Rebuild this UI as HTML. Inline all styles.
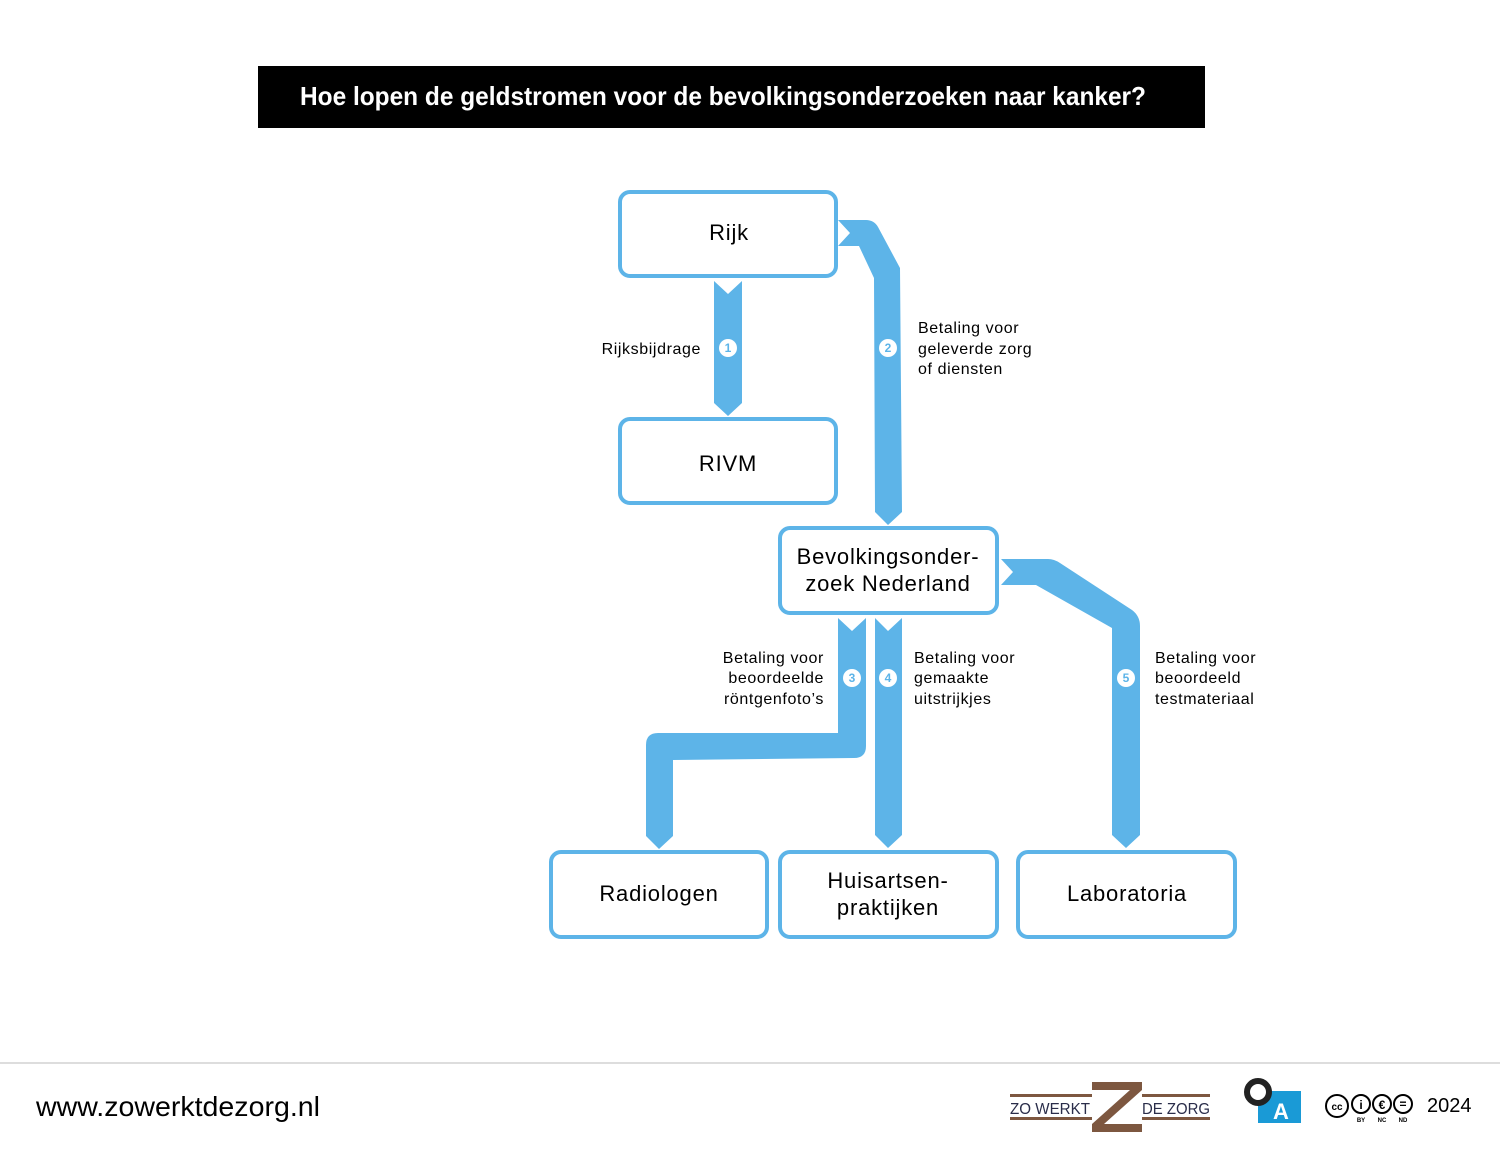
<!DOCTYPE html>
<html><head><meta charset="utf-8"><style>
html,body{margin:0;padding:0;background:#fff;width:1500px;height:1150px;overflow:hidden}
svg{display:block}
text{font-family:"Liberation Sans",sans-serif}
</style></head><body>
<svg width="1500" height="1150" viewBox="0 0 1500 1150" xmlns="http://www.w3.org/2000/svg">
<rect x="258" y="66" width="947" height="62" fill="#000"/>
<text x="300" y="105" fill="#fff" font-size="26" font-weight="bold" textLength="846" lengthAdjust="spacingAndGlyphs">Hoe lopen de geldstromen voor de bevolkingsonderzoeken naar kanker?</text>

<g fill="#5db4e8">
<polygon points="714,281 728,294 742,281 742,403 728,416 714,403"/>
<path d="M838,220 L866,220 Q874,220 878,227 L900,268 L902,512 L888,525 L875,512 L874,278 L859,246 L838,246 L850,233 Z"/>
<path d="M838,618 L852,631 L866,618 L866,746 Q866,758 854,758 L673,760 L673,836 L659,849 L646,836 L646,745 Q646,733 658,733 L838,733 Z"/>
<polygon points="875,618 888,631 902,618 902,835 888,848 875,835"/>
<path d="M1001,559 L1048,559 Q1054,559 1060,563 L1132,610 Q1140,616 1140,626 L1140,835 L1126,848 L1112,835 L1112,628 L1036,585 L1001,585 L1013,572 Z"/>
</g>

<g fill="#fff" stroke="#5db4e8" stroke-width="4">
<rect x="620" y="192" width="216" height="84" rx="10"/>
<rect x="620" y="419" width="216" height="84" rx="10"/>
<rect x="780" y="528" width="217" height="85" rx="10"/>
<rect x="551" y="852" width="216" height="85" rx="10"/>
<rect x="780" y="852" width="217" height="85" rx="10"/>
<rect x="1018" y="852" width="217" height="85" rx="10"/>
</g>

<g font-size="22" fill="#000" text-anchor="middle" letter-spacing="0.8">
<text x="729" y="240">Rijk</text>
<text x="728" y="471">RIVM</text>
<text x="888" y="564">Bevolkingsonder-</text>
<text x="888" y="591">zoek Nederland</text>
<text x="659" y="901">Radiologen</text>
<text x="888" y="888">Huisartsen-</text>
<text x="888" y="915">praktijken</text>
<text x="1127" y="901">Laboratoria</text>
</g>

<g fill="#fff">
<circle cx="728" cy="348" r="9"/><circle cx="888" cy="348" r="9"/>
<circle cx="852" cy="678" r="9"/><circle cx="888" cy="678" r="9"/>
<circle cx="1126" cy="678" r="9"/>
</g>
<g fill="#5db4e8" font-size="12" font-weight="bold" text-anchor="middle">
<text x="728" y="352">1</text><text x="888" y="352">2</text>
<text x="852" y="682">3</text><text x="888" y="682">4</text>
<text x="1126" y="682">5</text>
</g>

<g font-size="16" fill="#000" letter-spacing="0.6">
<text x="701" y="354" text-anchor="end">Rijksbijdrage</text>
<text x="918" y="333">Betaling voor</text>
<text x="918" y="354">geleverde zorg</text>
<text x="918" y="374">of diensten</text>
<text x="824" y="663" text-anchor="end">Betaling voor</text>
<text x="824" y="683" text-anchor="end">beoordeelde</text>
<text x="824" y="704" text-anchor="end">röntgenfoto’s</text>
<text x="914" y="663">Betaling voor</text>
<text x="914" y="683">gemaakte</text>
<text x="914" y="704">uitstrijkjes</text>
<text x="1155" y="663">Betaling voor</text>
<text x="1155" y="683">beoordeeld</text>
<text x="1155" y="704">testmateriaal</text>
</g>

<rect x="0" y="1062" width="1500" height="2" fill="#ddd"/>
<text x="36" y="1116" font-size="28" fill="#000" textLength="284" lengthAdjust="spacingAndGlyphs">www.zowerktdezorg.nl</text>

<g fill="#7d5740">
<rect x="1010" y="1094" width="82" height="3"/><rect x="1010" y="1117" width="82" height="3"/>
<rect x="1142" y="1094" width="68" height="3"/><rect x="1142" y="1117" width="68" height="3"/>
<path d="M1092,1082 L1142,1082 L1142,1090 L1104,1124 L1142,1124 L1142,1132 L1092,1132 L1092,1124 L1130,1090 L1092,1090 Z"/>
</g>
<text x="1010" y="1114" font-size="16" fill="#2a2d4a" textLength="80" lengthAdjust="spacingAndGlyphs">ZO WERKT</text>
<text x="1142" y="1114" font-size="16" fill="#2a2d4a" textLength="68" lengthAdjust="spacingAndGlyphs">DE ZORG</text>

<rect x="1258" y="1091" width="43" height="32" fill="#1a9ad6"/>
<text x="1281" y="1119" font-size="22" font-weight="bold" fill="#fff" text-anchor="middle">A</text>
<circle cx="1258" cy="1092" r="11" fill="#fff" stroke="#222" stroke-width="6"/>

<g fill="none" stroke="#000" stroke-width="2">
<circle cx="1337" cy="1106" r="11"/><circle cx="1361" cy="1104" r="9"/>
<circle cx="1382" cy="1104" r="9"/><circle cx="1403" cy="1104" r="9"/>
</g>
<text x="1337" y="1110" font-size="10" font-weight="bold" text-anchor="middle">cc</text>
<text x="1361" y="1109" font-size="12" font-weight="bold" text-anchor="middle">i</text>
<text x="1382" y="1109" font-size="12" font-weight="bold" text-anchor="middle">€</text>
<text x="1403" y="1108" font-size="12" font-weight="bold" text-anchor="middle">=</text>
<g font-size="6" font-weight="bold" text-anchor="middle">
<text x="1361" y="1122">BY</text><text x="1382" y="1122">NC</text><text x="1403" y="1122">ND</text>
</g>
<text x="1427" y="1112" font-size="20" fill="#000">2024</text>
</svg>
</body></html>
